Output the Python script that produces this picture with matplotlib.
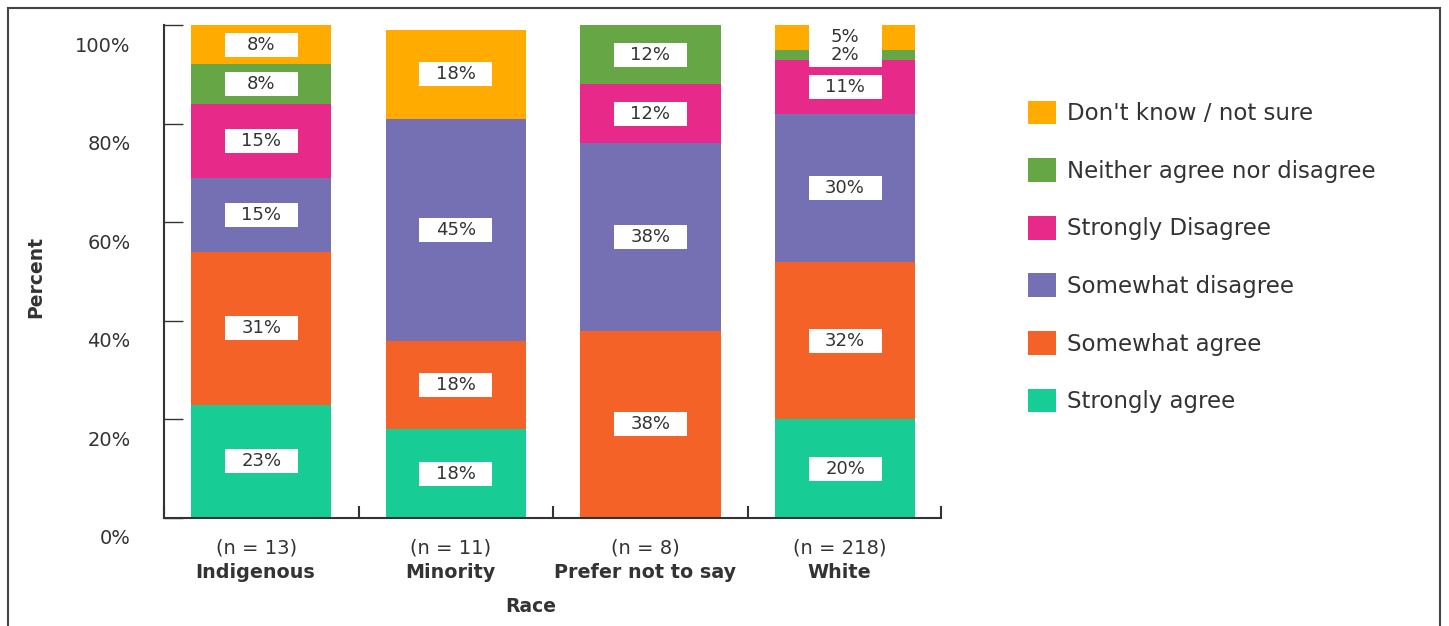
import matplotlib.pyplot as plt
import matplotlib.transforms as mtransforms
from matplotlib.patches import Rectangle, Patch
import numpy as np

# data
groups = ['Indigenous', 'Minority', 'Prefer not to say', 'White']
counts = ['(n = 13)', '(n = 11)', '(n = 8)', '(n = 218)']
responses = ['Strongly agree', 'Somewhat agree', 'Somewhat disagree',
             'Strongly Disagree', 'Neither agree nor disagree', "Don't know / not sure"]
strongly_agree = [23, 18, 0, 20]
somewhat_agree = [31, 18, 38, 32]
somewhat_disagree = [15, 45, 38, 30]
strongly_disagree = [15, 0, 12, 11]
neither = [8, 0, 12, 2]
dont_know = [8, 18, 0, 5]
colors = ['#17CC95', '#F46228', '#7570B3', '#E7298A', '#66A645', '#FFAB00']

series = [strongly_agree, somewhat_agree, somewhat_disagree,
          strongly_disagree, neither, dont_know]

plt.rcParams['font.family'] = ['DejaVu Sans']
txt = '#333333'

fig = plt.figure(figsize=(14.49, 6.26), dpi=100)
ax = fig.add_axes([164 / 1449, 1 - 518 / 626, (941 - 164) / 1449, (518 - 25) / 626])

x = np.arange(len(groups))
bw = 0.72
bottom = np.zeros(len(groups))
box_w, box_h = 0.375, 4.87
for vals, col in zip(series, colors):
    vals = np.array(vals, dtype=float)
    ax.bar(x, vals, bw, bottom=bottom, color=col, zorder=2)
    for xi, v, b in zip(x, vals, bottom):
        if v > 0:
            cy = b + v / 2
            ax.add_patch(Rectangle((xi - box_w / 2, cy - box_h / 2), box_w, box_h,
                                   facecolor='white', edgecolor='none', zorder=3))
    bottom += vals
# labels on top of all boxes
bottom = np.zeros(len(groups))
for vals in series:
    vals = np.array(vals, dtype=float)
    for xi, v, b in zip(x, vals, bottom):
        if v > 0:
            ax.text(xi, b + v / 2, f'{int(v)}%', ha='center', va='center',
                    fontsize=13, color=txt, zorder=4)
    bottom += vals

ax.set_xlim(-0.498, 3.493)
ax.set_ylim(0, 100)
ax.set_yticks(range(0, 101, 20))
ax.set_yticklabels([f'{v}%' for v in range(0, 101, 20)], fontsize=14, color=txt)
ax.tick_params(axis='y', direction='in', length=13.5, width=1, color=txt, pad=24)
offset = mtransforms.ScaledTranslation(0, -0.19, fig.dpi_scale_trans)
for lab in ax.get_yticklabels():
    lab.set_transform(lab.get_transform() + offset)

ax.set_xticks([])
ax.set_xticks([-0.5, 0.5, 1.5, 2.5, 3.493], minor=True)
ax.tick_params(axis='x', which='minor', direction='in', length=9, width=1.5, color=txt)
ax.set_xticklabels([], minor=True)

for s in ['top', 'right']:
    ax.spines[s].set_visible(False)
for s in ['left', 'bottom']:
    ax.spines[s].set_color(txt)
    ax.spines[s].set_linewidth(1.5)

tr = mtransforms.blended_transform_factory(ax.transData, ax.transAxes)
for xi, n, g in zip(x, counts, groups):
    ax.text(xi - 0.025, -0.06, n, transform=tr, ha='center', va='center',
            fontsize=14, color=txt)
    ax.text(xi - 0.03, -0.11, g, transform=tr, ha='center', va='center', fontsize=13.8,
            fontweight='bold', color=txt)

fig.text(531 / 1449, 1 - 607 / 626, 'Race', ha='center', va='center',
         fontsize=13.5, fontweight='bold', color=txt)
fig.text(36 / 1449, 1 - 277 / 626, 'Percent', ha='center', va='center', rotation=90,
         fontsize=13.5, fontweight='bold', color=txt)

handles = [Patch(facecolor=c, edgecolor='none') for c in colors[::-1]]
fig.legend(handles, responses[::-1], loc='upper left',
           bbox_to_anchor=(1007 / 1449, 1 - 80 / 626), frameon=False,
           fontsize=16.5, handlelength=1.22, handleheight=1.22,
           handletextpad=0.5, labelspacing=1.44, labelcolor=txt)

fig.add_artist(Rectangle((8 / 1449, -0.1), (1440 - 8) / 1449, 1.1 - 8 / 626,
                         transform=fig.transFigure, fill=False,
                         edgecolor='#444444', linewidth=1.5))

plt.savefig('out.png', dpi=100)
